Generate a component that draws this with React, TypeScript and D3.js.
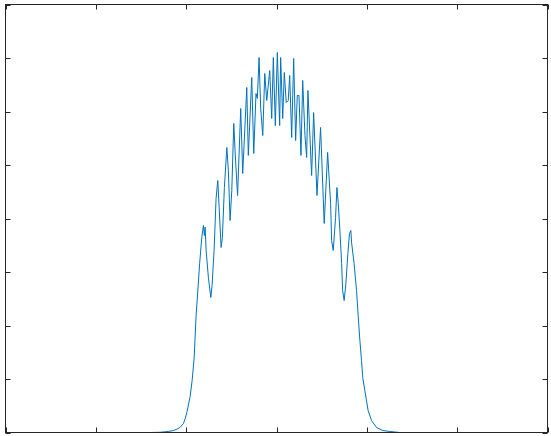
import React from "react";
import * as d3 from "d3";

// Data (x in [0,600], y in [0,800])
const xValues: number[] = [
  0, 160, 171, 180, 186, 190, 193, 197, 199, 201, 204.4, 206.6, 208.8, 211, 213.3, 214.9,
  217.3, 219.1, 220.2, 221, 222.1, 224.6, 227.3, 228.7, 230.9, 233.1, 235, 236.5, 238.7,
  240.1, 242.3, 245, 246.7, 248.6, 250.5, 252.7, 254.1, 256.9, 260.4, 262.6, 267.1, 268.8,
  272.6, 274.8, 277.3, 278.8, 280.7, 282.5, 284.8, 287, 289.2, 292.5, 294.7, 296.5, 298.7,
  300.9, 303.5, 304.6, 306.9, 308.6, 310.8, 313, 314.6, 316.8, 319, 321.2, 323, 324.9,
  327.1, 329, 331.5, 333.4, 334.8, 338.9, 341.1, 344.8, 348.8, 352.8, 356.6, 359.9, 361,
  362.8, 365.4, 366.9, 368.3, 370.2, 372.1, 373.2, 374.9, 376.8, 379, 380.8, 382.3, 383.1,
  385.9, 388.6, 390.4, 392.3, 394.1, 395.6, 397.8, 401.4, 405.2, 410.7, 417.7, 425.4,
  436.5, 600,
];
const yValues: number[] = [
  0, 0, 0.4, 1.9, 3.7, 6.5, 9.3, 16.8, 26.2, 39.3, 67.3, 97.2, 138.3, 218.7, 274.8, 315.9,
  364.5, 386.9, 368.2, 383.9, 340.2, 289.7, 252.3, 274.8, 340.2, 437.4, 471, 420.6, 345.8,
  364.5, 457.9, 532.7, 489.7, 396.3, 452.3, 577.6, 527.1, 443, 605.6, 484.1, 644.9, 517.8,
  663.6, 521.5, 633.6, 624.3, 700.9, 605.6, 555.1, 671, 620.6, 676.6, 586.9, 700.9, 573.8,
  710.3, 573.8, 700.9, 586.9, 672.9, 616.8, 620.6, 667.3, 551.4, 699.1, 545.8, 629.9, 629.9,
  517.8, 658, 555.1, 514, 639.3, 480.4, 598.1, 443, 570.1, 390.6, 523.4, 428, 358.9,
  340.2, 401.9, 457.9, 429.9, 377.6, 315.9, 265.4, 246.7, 278.5, 334.6, 372, 377.6, 355.1,
  315.9, 265.4, 218.7, 172, 134.6, 100.9, 78.5, 41.1, 22.4, 9.3, 3.7, 1.9,
  0, 0,
];
const xTicks: number[] = [0, 100, 200, 300, 400, 500, 600];
const yTicks: number[] = [0, 100, 200, 300, 400, 500, 600, 700, 800];

const W = 551;
const H = 436;
const L = 5.5;
const R = 547.5;
const T = 4.5;
const B = 432.5;

export default function App() {
  const x = d3.scaleLinear().domain([0, 600]).range([L, R]);
  const y = d3.scaleLinear().domain([0, 800]).range([B, T]);
  const pts: [number, number][] = xValues.map((v, i) => [v, yValues[i]]);
  const line = d3
    .line<[number, number]>()
    .x((d) => x(d[0]))
    .y((d) => y(d[1]));
  const tl = 5;
  const axisColor = "#262626";
  return (
    <svg
      width={W}
      height={H}
      style={{ position: "absolute", left: 0, top: 0, background: "#fff" }}
    >
      <rect x={0} y={0} width={W} height={H} fill="#fff" />
      <path d={line(pts) || ""} fill="none" stroke="#0072BD" strokeWidth={1} strokeLinejoin="round" />
      <g stroke={axisColor} strokeWidth={1} fill="none">
        <rect x={L} y={T} width={R - L} height={B - T} />
        {xTicks.map((t) => (
          <g key={"x" + t}>
            <line x1={Math.round(x(t)) + 0.5} x2={Math.round(x(t)) + 0.5} y1={B} y2={B - tl} />
            <line x1={Math.round(x(t)) + 0.5} x2={Math.round(x(t)) + 0.5} y1={T} y2={T + tl} />
          </g>
        ))}
        {yTicks.map((t) => (
          <g key={"y" + t}>
            <line x1={L} x2={L + tl} y1={Math.round(y(t)) + 0.5} y2={Math.round(y(t)) + 0.5} />
            <line x1={R} x2={R - tl} y1={Math.round(y(t)) + 0.5} y2={Math.round(y(t)) + 0.5} />
          </g>
        ))}
      </g>
    </svg>
  );
}
